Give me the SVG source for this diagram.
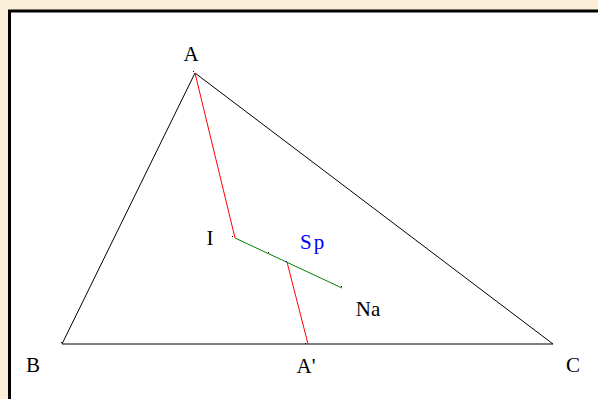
<svg xmlns="http://www.w3.org/2000/svg" width="598" height="399" viewBox="0 0 598 399">
<style>
  .lbl { font-family: "Liberation Serif", "Times New Roman", serif; font-size: 21px; fill: #000; }
  .blue { fill: #0000ff; }
  .side { stroke: #000; stroke-width: 1; fill: none; }
  .red { stroke: #ff0000; stroke-width: 1; fill: none; }
  .green { stroke: #008000; stroke-width: 1; fill: none; }
  .pt { fill: #000; }
</style>
<rect x="0" y="0" width="598" height="399" fill="#fbefd9"/>
<rect x="9.5" y="11" width="600" height="400" fill="#ffffff" stroke="#000" stroke-width="3"/>
<g id="connectors">
  <polygon class="side" points="195,73 62,344 553,344"/>
  <line class="red" x1="195" y1="73" x2="235" y2="238"/>
  <line class="red" x1="287" y1="262" x2="308" y2="344"/>
  <line class="green" x1="235" y1="238" x2="342" y2="288"/>
</g>
<g id="A"><rect class="pt" x="193" y="71" width="1" height="1"/><text class="lbl" x="191" y="61" text-anchor="middle">A</text></g>
<g id="B"><rect class="pt" x="61" y="342" width="1" height="1"/><text class="lbl" x="33" y="372" text-anchor="middle">B</text></g>
<g id="C"><text class="lbl" x="573" y="372" text-anchor="middle">C</text></g>
<g id="Aprime"><rect class="pt" x="305" y="343" width="1" height="1"/><text class="lbl" x="306" y="373" text-anchor="middle">A'</text></g>
<g id="I"><rect class="pt" x="232" y="236" width="1" height="1"/><text class="lbl" x="210" y="245" text-anchor="middle">I</text></g>
<g id="M"><rect class="pt" x="268" y="252" width="1" height="1"/></g>
<g id="Sp"><rect x="286" y="261" width="1" height="1" fill="#0000ff"/><text class="lbl blue" x="300" y="249" letter-spacing="2">Sp</text></g>
<g id="Na"><rect class="pt" x="341" y="286" width="1" height="1"/><text class="lbl" x="368" y="316" text-anchor="middle">Na</text></g>
</svg>
